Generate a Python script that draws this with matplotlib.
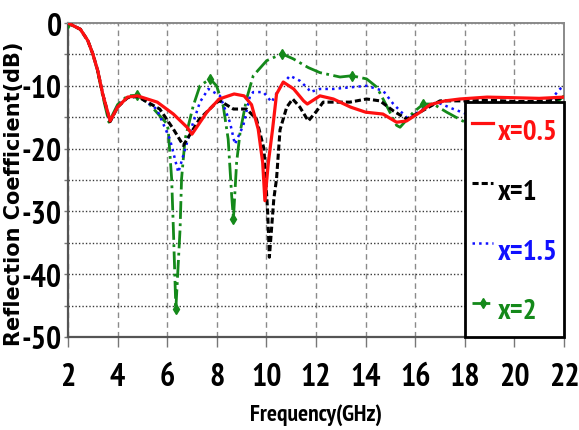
import matplotlib
matplotlib.use("Agg")
import matplotlib.pyplot as plt
from matplotlib.ticker import MultipleLocator

plt.rcParams["axes.unicode_minus"] = False

# frequency (GHz) / reflection coefficient (dB)
red_f = [2.0, 2.1, 2.5, 2.8, 3.0, 3.2, 3.4, 3.7, 4.0, 4.4, 4.8, 5.6, 6.25, 6.8, 7.0,
         7.6, 8.1, 8.7, 9.1, 9.4, 9.67, 9.85, 9.94, 10.08, 10.25, 10.41, 10.68,
         11.1, 11.5, 11.65, 12.16, 12.7, 13.4, 14.0, 14.7, 15.25, 15.65, 16.2,
         16.6, 17.2, 17.8, 18.9, 20.0, 21.0, 22.0]
red_v = [0, -0.2, -1.0, -2.8, -4.9, -7.6, -11.3, -15.6, -13.4, -11.8, -11.6, -12.6,
         -14.5, -16.6, -17.7, -14.2, -12.1, -11.3, -11.6, -13.0, -16.9, -22.2, -28.3,
         -22.2, -16.9, -11.3, -9.4, -10.5, -12.4, -12.9, -11.6, -12.1, -13.4, -14.2,
         -14.5, -15.8, -15.6, -14.2, -13.0, -12.4, -12.1, -11.8, -11.9, -12.0, -11.8]

black_f = [2.0, 2.1, 2.5, 2.8, 3.0, 3.2, 3.4, 3.7, 4.0, 4.4, 4.8, 5.7, 6.25, 6.65,
           7.3, 8.0, 8.13, 8.67, 9.2, 9.6, 9.9, 10.05, 10.12, 10.3, 10.41, 10.55,
           10.82, 11.06, 11.35, 11.69, 12.03, 12.29, 12.7, 13.37, 14.04, 14.58,
           15.12, 15.66, 16.19, 17.0, 18.2, 19.0, 20.0, 21.0, 21.6, 22.0]
black_v = [0, -0.2, -1.0, -2.8, -4.9, -7.6, -11.3, -15.7, -13.4, -11.9, -11.7, -13.7,
           -16.9, -19.5, -15.3, -12.6, -12.4, -13.7, -13.7, -15.3, -20.0, -30.0,
           -37.3, -28.0, -24.8, -17.0, -13.4, -12.1, -13.4, -15.6, -14.0, -12.6,
           -12.6, -12.6, -12.1, -12.4, -14.0, -15.3, -14.2, -12.4, -12.4, -12.3,
           -12.5, -12.5, -12.3, -11.8]

blue_f = [2.0, 2.1, 2.5, 2.8, 3.0, 3.2, 3.4, 3.7, 4.0, 4.4, 4.8, 5.58, 6.11, 6.45,
          6.92, 7.32, 7.66, 8.13, 8.53, 8.73, 9.07, 9.34, 9.47, 9.88, 10.21, 10.55,
          10.95, 11.35, 11.69, 11.76, 12.16, 12.7, 14.04, 14.71, 15.12, 15.52,
          15.72, 16.19, 16.87, 17.54, 18.08, 19.0, 20.0, 21.0, 21.4, 21.84, 22.0]
blue_v = [0, -0.2, -1.0, -2.8, -4.9, -7.6, -11.3, -15.7, -13.2, -11.8, -11.6, -13.7,
          -18.5, -23.8, -17.4, -12.6, -10.5, -11.6, -15.8, -19.3, -16.3, -11.6,
          -11.0, -11.0, -12.6, -10.2, -8.4, -9.2, -10.5, -11.0, -10.5, -10.5,
          -10.0, -10.8, -12.9, -14.5, -15.3, -14.0, -12.6, -13.7, -14.5, -15.0,
          -15.0, -14.0, -12.5, -10.5, -10.0]

green_f = [2.0, 2.1, 2.5, 2.8, 3.0, 3.2, 3.4, 3.65, 4.0, 4.4, 4.8, 5.3, 5.98, 6.04,
           6.18, 6.25, 6.35, 6.52, 6.58, 6.72, 7.05, 7.32, 7.73, 7.99, 8.26, 8.46,
           8.6, 8.67, 8.8, 8.94, 9.2, 9.47, 10.01, 10.62, 11.08, 11.69, 12.16,
           12.97, 13.44, 14.04, 14.45, 14.85, 15.25, 15.39, 15.93, 16.33, 16.73,
           17.27, 18.01, 19.0, 20.0, 21.0, 21.6, 22.0]
green_v = [0, -0.2, -1.0, -2.8, -4.9, -7.8, -11.6, -15.8, -13.0, -11.6, -11.5, -13.0,
           -16.0, -16.9, -24.8, -32.8, -45.5, -32.8, -24.8, -18.5, -13.2, -10.0,
           -8.9, -10.0, -13.2, -18.5, -27.5, -31.2, -22.2, -17.4, -12.1, -8.4,
           -6.0, -4.9, -5.7, -7.1, -7.9, -8.6, -8.4, -8.9, -10.2, -13.2, -16.3,
           -16.6, -14.2, -12.9, -12.9, -14.2, -15.8, -16.5, -16.5, -15.0, -13.0,
           -11.6]
green_marks = [0, 10, 16, 22, 27, 33, 38, 45]

labels = ["x=0.5", "x=1", "x=1.5", "x=2"]
x_ticks = [2, 4, 6, 8, 10, 12, 14, 16, 18, 20, 22]
y_ticks = [0, -10, -20, -30, -40, -50]

narrow = "PT Sans Narrow"

fig = plt.figure(figsize=(5.79, 4.31), dpi=100)
ax = fig.add_axes([0.1174, 0.2158, 0.8567, 0.7285])

ax.plot(red_f, red_v, color="#ff1010", lw=2.3, label=labels[0], zorder=6)
ax.plot(black_f, black_v, color="black", lw=2.2, dashes=(2, 1), label=labels[1], zorder=5)
ax.plot(blue_f, blue_v, color="#1010ff", lw=1.8, ls=":", label=labels[2], zorder=4)
ax.plot(green_f, green_v, color="#14891a", lw=2.0, ls="-.", marker="d", ms=5,
        markevery=green_marks, label=labels[3], zorder=3)

ax.set_xlim(2, 22)
ax.set_ylim(-50, 0)
ax.set_xticks(x_ticks)
ax.set_yticks(y_ticks)
ax.yaxis.set_minor_locator(MultipleLocator(5))

ax.grid(True, axis="x", which="major", color="#8a8a8a", lw=1.0, ls=(0, (4, 3)))
ax.grid(True, axis="y", which="both", color="#3a3a3a", lw=1.0, ls=(0, (1, 1.5)))
ax.set_axisbelow(True)

for s in ["left", "bottom"]:
    ax.spines[s].set_color("#555555")
    ax.spines[s].set_linewidth(1.6)
for s in ["top", "right"]:
    ax.spines[s].set_color("#8a8a8a")
    ax.spines[s].set_linewidth(1.4)

ax.tick_params(axis="x", which="major", direction="out", length=7, width=1,
               color="#777777", pad=11)
ax.tick_params(axis="y", which="both", direction="out", length=3, width=1,
               color="#777777", pad=1.5)
for lab in ax.get_xticklabels() + ax.get_yticklabels():
    lab.set_family(narrow)
    lab.set_fontweight("bold")
    lab.set_fontsize(23)

ax.set_ylabel("Reflection Coefficient(dB)", fontsize=15, fontweight="bold",
              family="DejaVu Sans")
ax.yaxis.set_label_coords(-0.088, 0.459)
ax.set_xlabel("Frequency(GHz)", fontsize=17, fontweight="bold", family=narrow)
ax.xaxis.set_label_coords(0.5, -0.21)

leg = ax.legend(loc="lower right", bbox_to_anchor=(1.0, 0.0), borderaxespad=0.0,
                prop={"family": narrow, "weight": "bold", "size": 21},
                labelcolor="linecolor", fancybox=False, framealpha=1.0,
                edgecolor="black", borderpad=0.22, labelspacing=0.57,
                handlelength=0.75, handleheight=1.9, handletextpad=0.15)
leg.get_frame().set_linewidth(2.0)
leg.set_zorder(10)

fig.savefig("out.png", dpi=100)
